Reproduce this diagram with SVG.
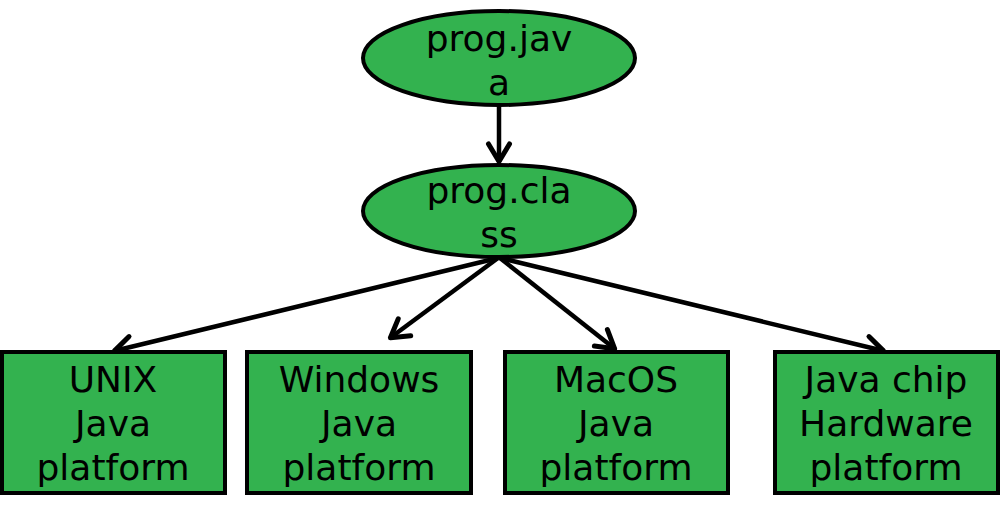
<svg xmlns="http://www.w3.org/2000/svg" width="1000" height="512" viewBox="0 0 1000 512">
<style>
.node{fill:#33b24f;stroke:#000;stroke-width:4}
.lbl{font-family:"DejaVu Sans","Liberation Sans",sans-serif;font-size:36px;fill:#000;text-anchor:middle}
.edge{stroke:#000;stroke-width:4.5;fill:none;marker-end:url(#arr)}
</style>
<defs>
<marker id="arr" viewBox="0 0 24 28" refX="21" refY="14" markerWidth="24" markerHeight="28" markerUnits="userSpaceOnUse" orient="auto">
<path d="M3,3.5 L20.5,14 L3,24.5" fill="none" stroke="#000" stroke-width="5" stroke-linecap="round" stroke-linejoin="round"/>
</marker>
</defs>
<rect width="1000" height="512" fill="#fff"/>
<g id="connectors">
<line class="edge" x1="499" y1="106" x2="499" y2="162"/>
<line class="edge" x1="498" y1="258" x2="114" y2="351"/>
<line class="edge" x1="498" y1="258" x2="390" y2="338"/>
<line class="edge" x1="500" y1="258" x2="615" y2="349"/>
<line class="edge" x1="500" y1="258" x2="884" y2="351"/>
</g>
<g id="progjava">
<ellipse class="node" cx="499" cy="58" rx="136" ry="47"/>
<text class="lbl" x="499" y="51">prog.jav</text>
<text class="lbl" x="499" y="95">a</text>
</g>
<g id="progclass">
<ellipse class="node" cx="499" cy="211" rx="136" ry="46"/>
<text class="lbl" x="499" y="203">prog.cla</text>
<text class="lbl" x="499" y="247">ss</text>
</g>
<g id="unix">
<rect class="node" x="2" y="352" width="223" height="141"/>
<text class="lbl" x="113" y="392">UNIX</text>
<text class="lbl" x="113" y="436">Java</text>
<text class="lbl" x="113" y="480">platform</text>
</g>
<g id="windows">
<rect class="node" x="247" y="352" width="224" height="141"/>
<text class="lbl" x="359" y="392">Windows</text>
<text class="lbl" x="359" y="436">Java</text>
<text class="lbl" x="359" y="480">platform</text>
</g>
<g id="macos">
<rect class="node" x="505" y="352" width="223" height="141"/>
<text class="lbl" x="616" y="392">MacOS</text>
<text class="lbl" x="616" y="436">Java</text>
<text class="lbl" x="616" y="480">platform</text>
</g>
<g id="javachip">
<rect class="node" x="775" y="352" width="223" height="141"/>
<text class="lbl" x="886" y="392">Java chip</text>
<text class="lbl" x="886" y="436">Hardware</text>
<text class="lbl" x="886" y="480">platform</text>
</g>
</svg>
